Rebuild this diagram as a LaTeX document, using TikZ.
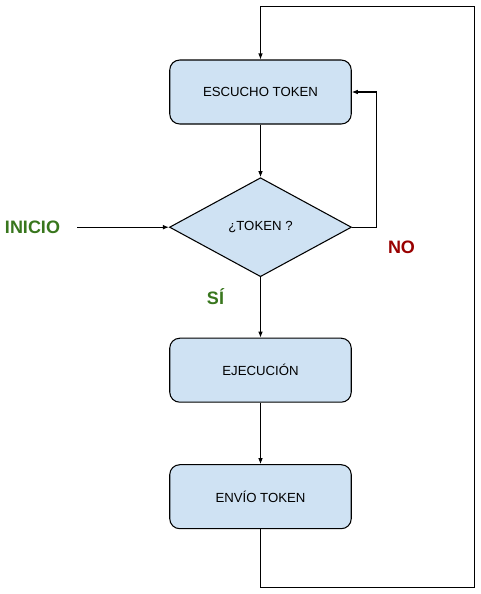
\documentclass[tikz,border=0pt]{standalone}
\usepackage{fontspec}
\setmainfont{Liberation Sans}
\usetikzlibrary{shapes.geometric,arrows.meta}
\definecolor{boxfill}{HTML}{CFE2F3}
\definecolor{labgreen}{HTML}{38761D}
\definecolor{labred}{HTML}{990000}
\begin{document}
\begin{tikzpicture}[x=0.75pt,y=-0.75pt,
  stepbox/.style={draw=black,fill=boxfill,rounded corners=7.5pt,minimum width=181.5*0.75pt,minimum height=64*0.75pt,inner sep=0pt,font=\fontsize{9.9pt}{11pt}\selectfont,line width=0.8pt},
  decision/.style={draw=black,fill=boxfill,diamond,minimum width=182*0.75pt,minimum height=99*0.75pt,inner sep=0pt,aspect=1.84,font=\fontsize{9.9pt}{11pt}\selectfont,line width=0.8pt},
  conn/.style={line width=0.8pt,-{Latex[length=4.5pt,width=3.5pt]}},
  lab/.style={font=\fontsize{13.5pt}{15pt}\selectfont\bfseries}]
\useasboundingbox (0,0) rectangle (480,594);
\node[stepbox] (b1) at (260.5,92) {ESCUCHO TOKEN};
\node[decision] (d) at (260.5,227.2) {¿TOKEN ?};
\node[stepbox] (b2) at (260.5,370.2) {EJECUCIÓN};
\node[stepbox] (b3) at (260.5,496.7) {ENVÍO TOKEN};
\node[lab,text=labgreen] (ini) at (32.5,227) {INICIO};
\node[lab,text=labred] (no) at (401.5,247) {NO};
\node[lab,text=labgreen] (si) at (215.5,297) {SÍ};
\coordinate (st) at (77,227.2);
\coordinate (nr) at (376.7,227.2);
\coordinate (c1) at (474.3,587.7);
\coordinate (c2) at (474.3,6.3);
\draw[conn] (st) -- (d.west);
\draw[conn] (b1.south) -- (d.north);
\draw[conn] (d.east) -- (nr) |- (b1.east);
\draw[conn] (d.south) -- (b2.north);
\draw[conn] (b2.south) -- (b3.north);
\draw[conn] (b3.south) |- (c1) -- (c2) -| (b1.north);
\end{tikzpicture}
\end{document}
